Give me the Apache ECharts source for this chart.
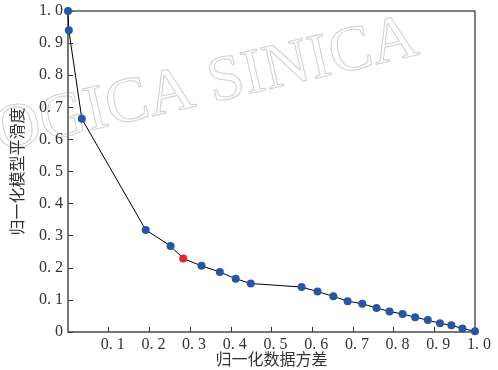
<!DOCTYPE html>
<html>
<head>
<meta charset="utf-8">
<script src="https://cdn.jsdelivr.net/npm/echarts@6/dist/echarts.min.js"></script>
<style>
  html, body { margin: 0; padding: 0; background: #fff; }
  #chart { width: 498px; height: 370px; }
</style>
</head>
<body>
<div id="chart"></div>
<script>
  // 归一化数据方差 / 归一化模型平滑度
  var varianceX = [0, 0.002, 0.034, 0.191, 0.252, 0.283, 0.328, 0.373, 0.412, 0.449, 0.574, 0.613,
                   0.652, 0.687, 0.723, 0.758, 0.790, 0.822, 0.853, 0.884, 0.914, 0.942, 0.969, 1.0];
  var smoothY   = [1.0, 0.94, 0.664, 0.318, 0.268, 0.229, 0.206, 0.187, 0.166, 0.151, 0.140, 0.126,
                   0.111, 0.096, 0.088, 0.075, 0.064, 0.056, 0.046, 0.037, 0.027, 0.021, 0.011, 0.002];
  var highlightIdx = 5;               // the red point
  var xName = '归一化数据方差';
  var yName = '归一化模型平滑度';
  var watermark = 'OGICA SINICA';

  var BLUE = '#2457a8', RED = '#e8262a';
  var NUM_FONT = '"Liberation Serif", "DejaVu Serif", serif';
  var CJK_FONT = '"Noto Sans CJK SC", sans-serif';

  // labels in the figure are spaced like "0. 1"
  function tickLabel(v) {
    if (Math.abs(v) < 1e-9) { return '0'; }
    return v.toFixed(1).replace('.', '. ');
  }

  var points = varianceX.map(function (x, i) {
    var p = { value: [x, smoothY[i]] };
    if (i === highlightIdx) { p.itemStyle = { color: RED }; }
    return p;
  });

  var chart = echarts.init(document.getElementById('chart'));
  chart.setOption({
    animation: false,
    backgroundColor: '#fff',
    graphic: [{
      type: 'text',
      left: -12, top: 6,
      rotation: Math.PI * 13 / 180,
      silent: true, z: -10,
      style: {
        text: watermark,
        font: '64px "Liberation Serif", serif',
        fill: 'rgba(0,0,0,0)',
        stroke: '#cfcfcf',
        lineWidth: 1
      }
    }],
    grid: {
      left: 68, right: 23, top: 11, bottom: 38,
      outerBoundsMode: 'none',
      show: true, borderColor: '#000', borderWidth: 1
    },
    xAxis: {
      type: 'value', min: 0, max: 1, interval: 0.1,
      name: xName, nameLocation: 'middle', nameGap: 19, nameMoveOverlap: false,
      nameTextStyle: { fontFamily: CJK_FONT, fontSize: 16, color: '#333', verticalAlign: 'top' },
      axisLine: { lineStyle: { color: '#777', width: 2 } },
      axisTick: { inside: true, length: 5, lineStyle: { color: '#333' } },
      axisLabel: {
        showMinLabel: false, margin: 5, padding: [0, 0, 0, 8],
        fontFamily: NUM_FONT, fontSize: 16, color: '#333',
        formatter: tickLabel
      },
      splitLine: { show: false }
    },
    yAxis: {
      type: 'value', min: 0, max: 1, interval: 0.1,
      name: yName, nameLocation: 'middle', nameGap: 43, nameMoveOverlap: false,
      nameTextStyle: { fontFamily: CJK_FONT, fontSize: 16, color: '#333' },
      axisLine: { lineStyle: { color: '#777', width: 2 } },
      axisTick: { inside: true, length: 5, lineStyle: { color: '#333' } },
      axisLabel: {
        margin: 5,
        fontFamily: NUM_FONT, fontSize: 16, color: '#333',
        formatter: tickLabel
      },
      splitLine: { show: false }
    },
    series: [{
      type: 'line',
      data: points,
      symbol: 'circle',
      symbolSize: 8,
      itemStyle: { color: BLUE },
      lineStyle: { color: '#000', width: 1 },
      z: 5
    }]
  });
</script>
</body>
</html>
